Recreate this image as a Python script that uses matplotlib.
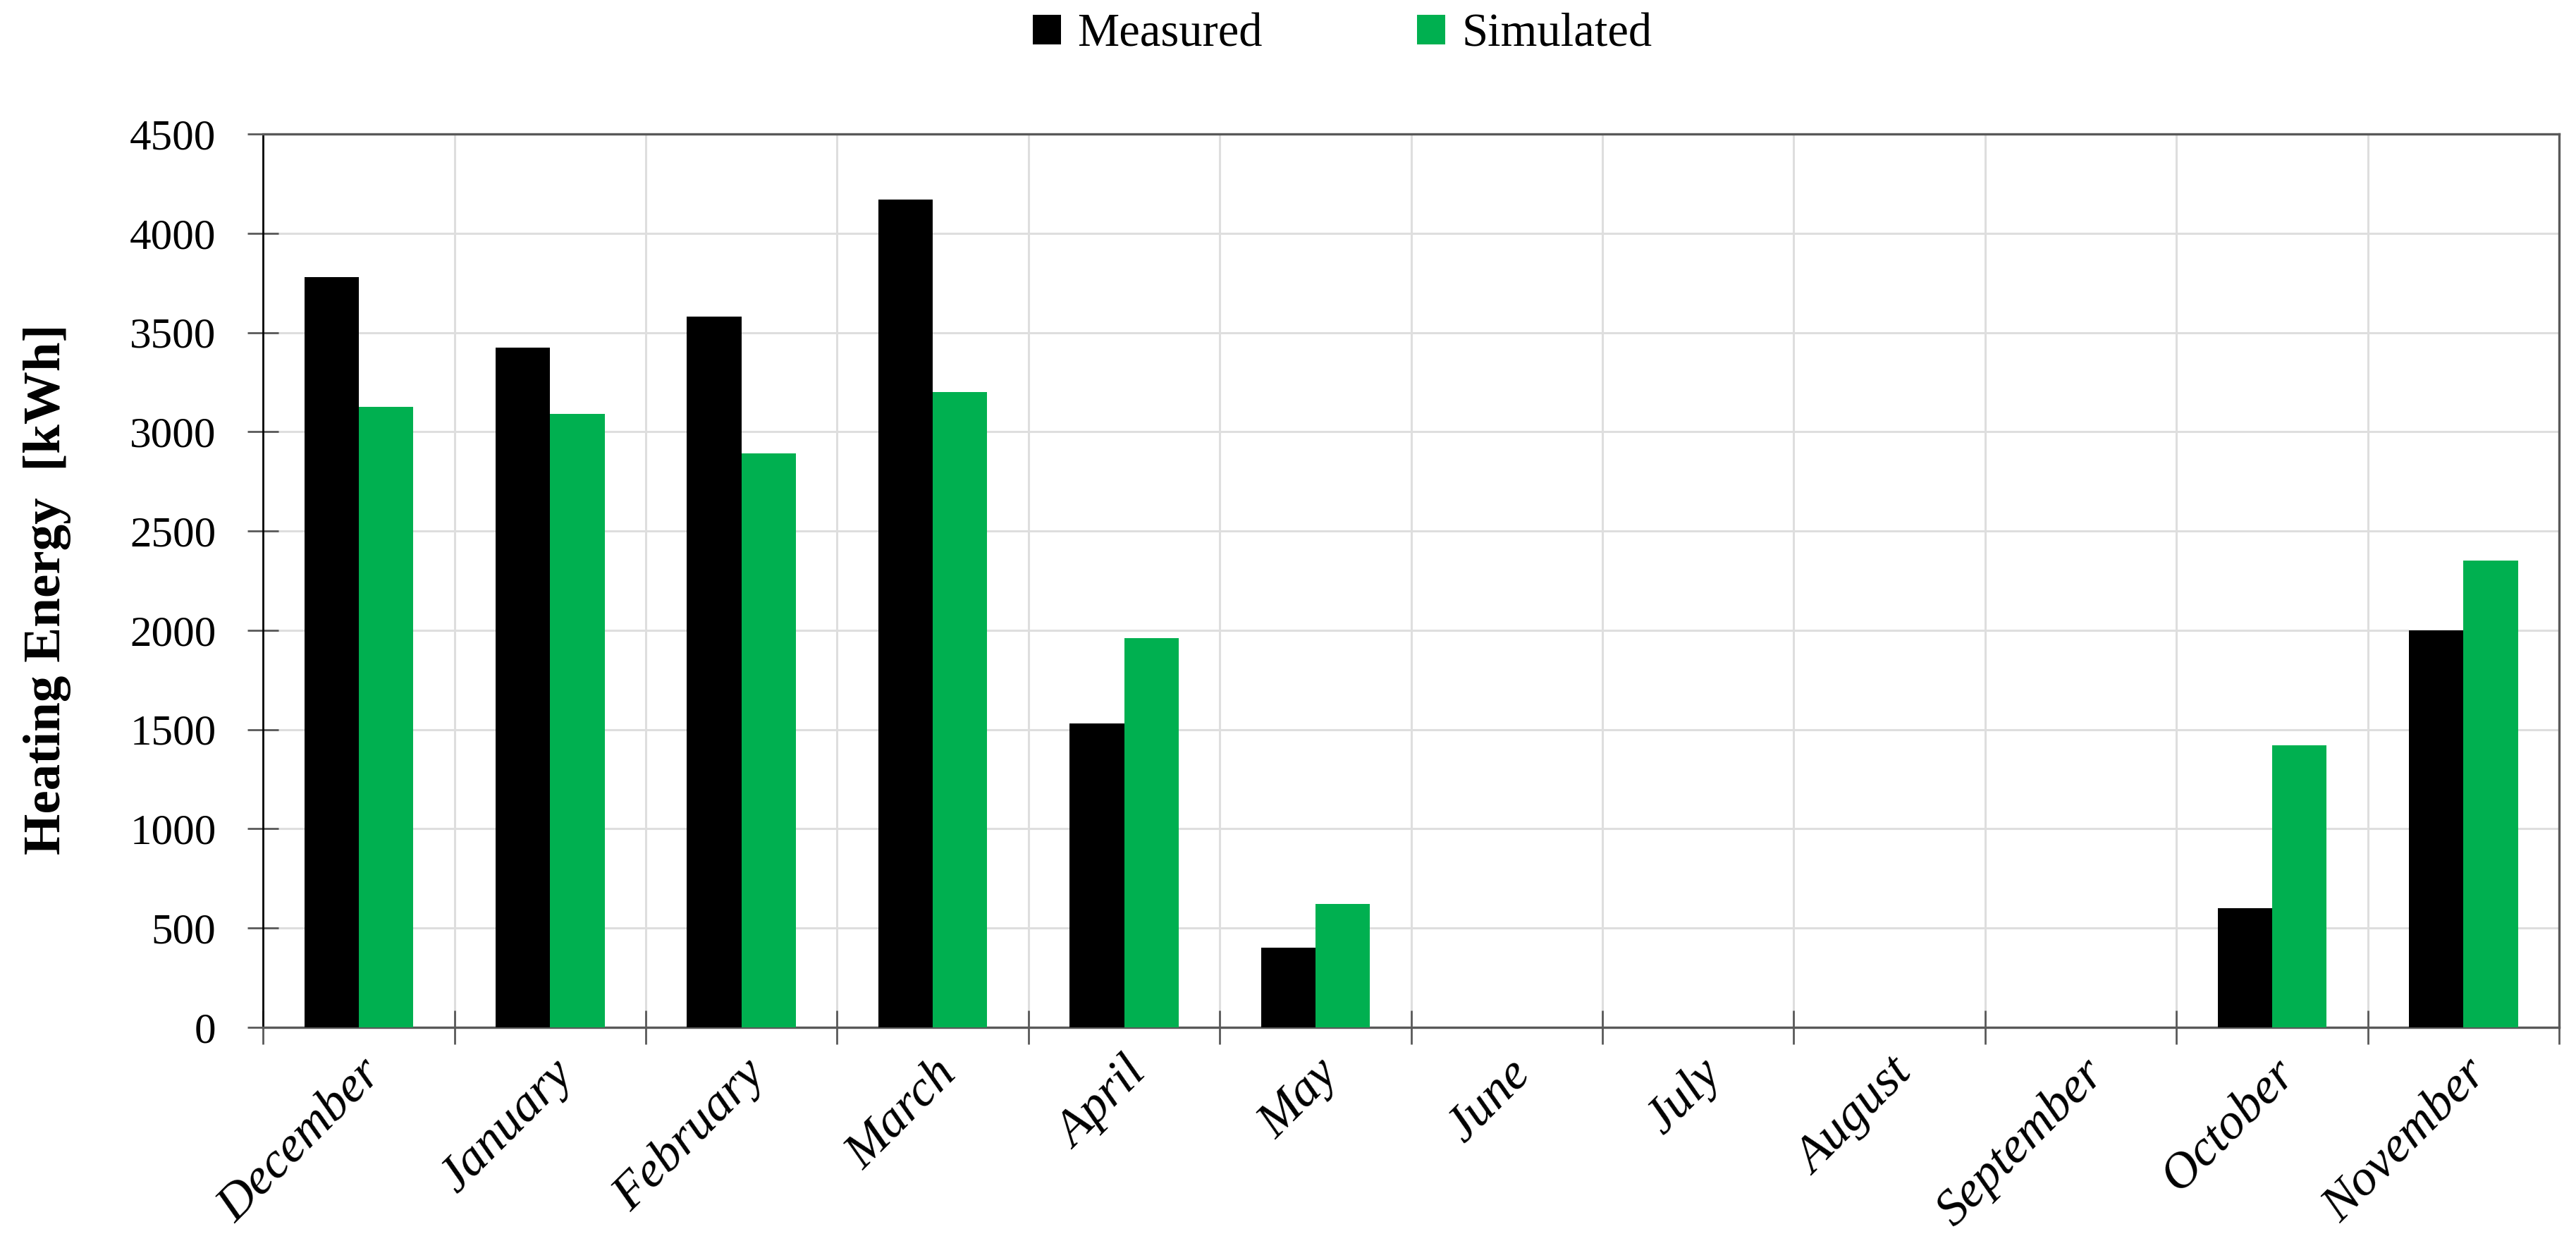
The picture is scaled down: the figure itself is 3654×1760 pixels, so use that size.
import matplotlib
matplotlib.use("Agg")
import matplotlib.pyplot as plt
from matplotlib.patches import Patch
import numpy as np

plt.rcParams['font.family'] = ['Liberation Serif', 'DejaVu Serif']

months = ["December", "January", "February", "March", "April", "May",
          "June", "July", "August", "September", "October", "November"]
measured = [3780, 3425, 3580, 4170, 1530, 400, 0, 0, 0, 0, 600, 2000]
simulated = [3125, 3090, 2890, 3200, 1960, 620, 0, 0, 0, 0, 1420, 2350]
y_ticks = [0, 500, 1000, 1500, 2000, 2500, 3000, 3500, 4000, 4500]

BLACK = "#000000"
GREEN = "#00b050"
GRID = "#dedede"
SPINE = "#595959"

fig = plt.figure(figsize=(18.275, 8.8), dpi=200)
ax = fig.add_axes([0.1021, 0.1722, 0.8911, 0.7198])

x = np.arange(len(months))
w = 0.285
ax.bar(x - w / 2, measured, width=w, color=BLACK, zorder=3)
ax.bar(x + w / 2, simulated, width=w, color=GREEN, zorder=3)

ax.set_xlim(-0.5, len(months) - 0.5)
ax.set_ylim(0, 4500)
ax.set_yticks(y_ticks)
ax.set_yticklabels([str(v) for v in y_ticks], fontsize=22)

# month labels at centres, tick marks / grid at slot boundaries
ax.set_xticks(x)
ax.set_xticklabels(months, fontsize=26, style='italic', rotation=45,
                   ha='right', va='top', rotation_mode='anchor')
ax.set_xticks(np.arange(-0.5, len(months)), minor=True)
ax.tick_params(axis='x', which='major', length=0, pad=12)
ax.tick_params(axis='x', which='minor', direction='inout', length=17,
               width=1.0, color=SPINE)
ax.tick_params(axis='y', direction='inout', length=16, width=1.0,
               color=SPINE, pad=16)

ax.grid(axis='y', which='major', color=GRID, lw=1.1, zorder=0)
ax.grid(axis='x', which='minor', color=GRID, lw=1.1, zorder=0)
ax.set_axisbelow(True)

ax.spines['left'].set_color(BLACK)
ax.spines['left'].set_linewidth(1.0)
for s in ['bottom', 'top', 'right']:
    ax.spines[s].set_color(SPINE)
    ax.spines[s].set_linewidth(1.2)

ax.set_ylabel("Heating Energy  [kWh]", fontsize=27, fontweight='bold',
              labelpad=12)
ax.yaxis.set_label_coords(-0.0835, 0.49)

handles = [Patch(facecolor=BLACK, label="Measured"),
           Patch(facecolor=GREEN, label="Simulated")]
fig.legend(handles=handles, loc='center', bbox_to_anchor=(0.521, 0.972),
           ncol=2, frameon=False, fontsize=24, handlelength=0.6,
           handleheight=0.6, handletextpad=0.35, columnspacing=3.3)

fig.savefig("out.png", dpi=200)
